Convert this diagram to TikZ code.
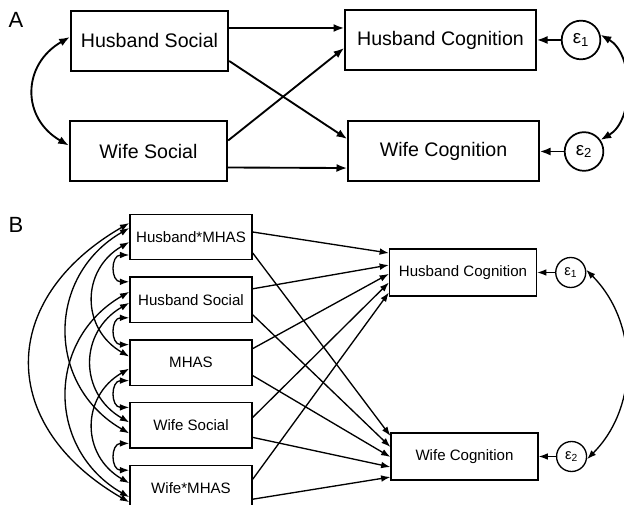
\documentclass[tikz,border=0pt]{standalone}
\usepackage{fontspec}
\setmainfont{Liberation Sans}
\usetikzlibrary{positioning, arrows.meta}

\begin{document}
\begin{tikzpicture}[x=0.75pt, y=-0.75pt, >={Latex[length=8pt,width=6pt]}]
    \tikzset{
        boxA/.style={draw, line width=1.5pt, inner sep=0pt, minimum height=45pt, font=\fontsize{14.7}{17}\selectfont},
        errA/.style={draw, circle, line width=1.3pt, inner sep=0pt, minimum size=29pt, font=\fontsize{14}{16}\selectfont},
        boxB/.style={draw, line width=1.1pt, inner sep=0pt, minimum width=91.5pt, minimum height=34pt, font=\fontsize{11.3}{13}\selectfont},
        errB/.style={draw, circle, line width=1pt, inner sep=0pt, minimum size=22.5pt, font=\fontsize{11}{13}\selectfont},
        pathA/.style={->, line width=1.4pt},
        pathB/.style={-{Latex[length=7pt,width=5pt]}, line width=1pt},
        covB/.style={{Latex[length=7pt,width=5pt]}-{Latex[length=7pt,width=5pt]}, line width=1pt},
        cov1/.style={out=180, in=180, looseness=1.8},
        cov2/.style={out=210, in=150, looseness=1.25},
        cov3/.style={out=210, in=150, looseness=1.2},
        cov4/.style={out=210, in=150, looseness=1.4}
    }
    \useasboundingbox (0,0) rectangle (624,505);

    % PANEL A
    \node[font=\fontsize{16.5}{18}\selectfont] (labA) at (16,20) {A};
    \node[boxA, minimum width=118pt] (hsA) at (149.5,41) {Husband Social};
    \node[boxA, minimum width=118pt] (wsA) at (148.5,151.5) {Wife Social};
    \node[boxA, minimum width=143pt] (hcA) at (440.5,40) {Husband Cognition};
    \node[boxA, minimum width=143pt] (wcA) at (443.5,151.5) {Wife Cognition};
    \node[errA] (eA1) [right=18pt of hcA] {ε\textsubscript{1}};
    \node[errA] (eA2) [right=18pt of wcA] {ε\textsubscript{2}};

    \path[pathA]
        ([yshift=9.75pt]hsA.east) edge ([yshift=9pt]hcA.west)
        ([yshift=-15pt]hsA.east) edge ([yshift=9.4pt]wcA.west)
        ([yshift=8.25pt]wsA.east) edge ([yshift=-6pt]hcA.west)
        ([yshift=-12pt]wsA.east) edge ([yshift=-12.4pt]wcA.west)
        (eA1.west) edge (eA1.west -| hcA.east)
        (eA2.west) edge (eA2.west -| wcA.east);

    \draw[<->, line width=1.4pt] ([yshift=3pt]hsA.west) to[out=210, in=150, looseness=1.3] ([yshift=4.5pt]wsA.west);
    \draw[<->, line width=1.4pt] (eA1.15) to[out=-30, in=30, looseness=0.95] (eA2.35);

    % PANEL B
    \node[font=\fontsize{16.5}{18}\selectfont] (labB) at (16,225) {B};
    \node[boxB] (hmB) at (191,237) {Husband*MHAS};
    \node[boxB] (hsB) [below=12pt of hmB] {Husband Social};
    \node[boxB] (mB) [below=12pt of hsB] {MHAS};
    \node[boxB] (wsB) [below=12pt of mB] {Wife Social};
    \node[boxB] (wmB) [below=12pt of wsB] {Wife*MHAS};
    \node[boxB, minimum width=110pt, minimum height=35pt] (hcB) at (463,272.5) {Husband Cognition};
    \node[boxB, minimum width=110pt, minimum height=35pt] (wcB) at (464.5,456.5) {Wife Cognition};
    \node[errB] (eB1) [right=13.5pt of hcB] {ε\textsubscript{1}};
    \node[errB] (eB2) [right=13pt of wcB] {ε\textsubscript{2}};

    \path[pathB]
        ([yshift=3.75pt]hmB.east) edge ([yshift=14.6pt]hcB.west)
        ([yshift=-12pt]hmB.east) edge ([yshift=15.4pt]wcB.west)
        ([yshift=8.25pt]hsB.east) edge ([yshift=5.6pt]hcB.west)
        ([yshift=-11.25pt]hsB.east) edge ([yshift=7.1pt]wcB.west)
        ([yshift=10.5pt]mB.east) edge ([yshift=-1pt]hcB.west)
        ([yshift=-9.75pt]mB.east) edge ([yshift=-0.4pt]wcB.west)
        ([yshift=6pt]wsB.east) edge ([yshift=-7.5pt]hcB.west)
        ([yshift=-9pt]wsB.east) edge ([yshift=-7.9pt]wcB.west)
        ([yshift=6.75pt]wmB.east) edge ([yshift=-15pt]hcB.west)
        ([yshift=-8.25pt]wmB.east) edge ([yshift=-15.4pt]wcB.west)
        (eB1.west) edge (eB1.west -| hcB.east)
        (eB2.west) edge (eB2.west -| wcB.east);

    % COVARIANCES
    \path[covB]
        ([yshift=-13.5pt]hmB.west) edge[cov1] ([yshift=13.5pt]hsB.west)
        ([yshift=-13.5pt]hsB.west) edge[cov1] ([yshift=13.5pt]mB.west)
        ([yshift=-13.5pt]mB.west) edge[cov1] ([yshift=13.5pt]wsB.west)
        ([yshift=-13.5pt]wsB.west) edge[cov1] ([yshift=13.5pt]wmB.west)
        ([yshift=-3.75pt]hmB.west) edge[cov2] ([yshift=4.5pt]mB.west)
        ([yshift=-2.25pt]hsB.west) edge[cov2] ([yshift=2.25pt]wsB.west)
        ([yshift=-4.5pt]mB.west) edge[cov2] ([yshift=3.75pt]wmB.west)
        ([yshift=6.75pt]hmB.west) edge[cov3] ([yshift=-6pt]wsB.west)
        ([yshift=6pt]hsB.west) edge[cov3] ([yshift=-6.75pt]wmB.west)
        ([yshift=10.5pt]hmB.west) edge[cov4] ([yshift=-10.5pt]wmB.west)
        (eB1.10) edge[out=-45, in=45, looseness=1] (eB2.-10);

\end{tikzpicture}
\end{document}
